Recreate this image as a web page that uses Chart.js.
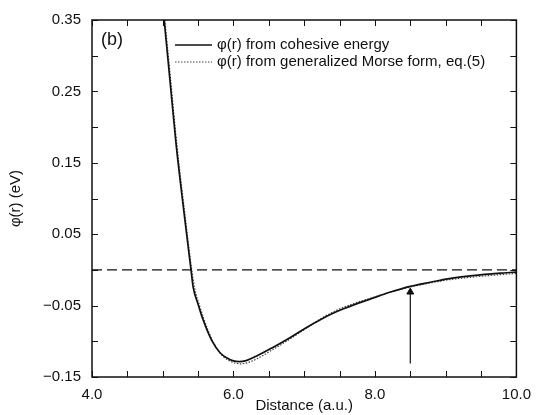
<!DOCTYPE html>
<html>
<head>
<meta charset="utf-8">
<script src="https://cdn.jsdelivr.net/npm/chart.js@4.4.1/dist/chart.umd.min.js"></script>
<style>
	body { margin: 0; background: #fff; }
	#wrap { width: 540px; height: 415px; }
</style>
</head>
<body>
<div id="wrap"><canvas id="phiChart" width="540" height="415"></canvas></div>
<script>
// phi(r) from cohesive energy (solid)
const cohR = [5.02, 5.10, 5.19, 5.30, 5.40, 5.43, 5.50, 5.56, 5.63, 5.70, 5.81, 5.91, 6.00, 6.08, 6.18, 6.32, 6.55, 6.78, 7.01, 7.24, 7.47, 7.70, 7.93, 8.22, 8.50, 8.80, 9.03, 9.49, 9.86, 10.0];
const cohPhi = [0.350, 0.268, 0.175, 0.081, 0.000, -0.024, -0.048, -0.067, -0.085, -0.100, -0.116, -0.1235, -0.1275, -0.1285, -0.127, -0.121, -0.109, -0.096, -0.082, -0.069, -0.058, -0.049, -0.041, -0.031, -0.023, -0.017, -0.0125, -0.007, -0.004, -0.003];

// phi(r) from generalized Morse form (dotted)
const morseR = [5.03, 5.11, 5.20, 5.31, 5.41, 5.45, 5.52, 5.58, 5.65, 5.72, 5.83, 5.93, 6.02, 6.10, 6.20, 6.32, 6.55, 6.78, 7.01, 7.24, 7.47, 7.70, 7.93, 8.22, 8.50, 8.80, 9.03, 9.49, 9.86, 10.0];
const morsePhi = [0.350, 0.268, 0.175, 0.081, 0.000, -0.025, -0.050, -0.068, -0.087, -0.102, -0.119, -0.1265, -0.1305, -0.1315, -0.130, -0.125, -0.112, -0.098, -0.083, -0.068, -0.056, -0.047, -0.040, -0.031, -0.024, -0.018, -0.014, -0.009, -0.006, -0.005];

// zero line and arrow
const zeroR = [4.0, 10.0];
const zeroPhi = [0, 0];
const arrowR = [8.5, 8.5];
const arrowPhi = [-0.131, -0.031];

const seriesLabels = ["\u03c6(r) from cohesive energy", "\u03c6(r) from generalized Morse form, eq.(5)"];
const panelLabel = "(b)";
const xTitle = "Distance (a.u.)";
const yTitle = "\u03c6(r) (eV)";

const FONT = "'Liberation Sans', Arial, Helvetica, sans-serif";
const INK = "#111";

function toPoints(xs, ys) {
	return xs.map((x, i) => ({ x: x, y: ys[i] }));
}

// frame, inward ticks, legend
const frameTicks = {
	id: "frameTicks",
	afterDatasetsDraw(chart) {
		const ctx = chart.ctx;
		const a = chart.chartArea;
		const sx = chart.scales.x;
		const sy = chart.scales.y;
		ctx.save();
		ctx.strokeStyle = INK;
		ctx.lineWidth = 1;
		ctx.beginPath();
		sx.ticks.forEach((t) => {
			let px = Math.round(sx.getPixelForValue(t.value)) + 0.5;
			ctx.moveTo(px, a.bottom);
			ctx.lineTo(px, a.bottom - 6);
			ctx.moveTo(px, a.top);
			ctx.lineTo(px, a.top + 6);
		});
		sy.ticks.forEach((t) => {
			let py = Math.round(sy.getPixelForValue(t.value)) + 0.5;
			ctx.moveTo(a.left, py);
			ctx.lineTo(a.left + 6, py);
			ctx.moveTo(a.right, py);
			ctx.lineTo(a.right - 6, py);
		});
		ctx.stroke();
		ctx.lineWidth = 1.5;
		ctx.strokeRect(a.left, a.top, a.right - a.left, a.bottom - a.top);

		// legend
		ctx.fillStyle = INK;
		ctx.font = "15px " + FONT;
		ctx.textBaseline = "middle";
		ctx.textAlign = "left";
		const ds = chart.data.datasets;
		[0, 1].forEach((i) => {
			let y = 45 + i * 17;
			ctx.beginPath();
			ctx.lineWidth = ds[i].borderWidth;
			ctx.strokeStyle = ds[i].borderColor;
			ctx.setLineDash(ds[i].borderDash || []);
			ctx.moveTo(175, y);
			ctx.lineTo(212, y);
			ctx.stroke();
			ctx.setLineDash([]);
			ctx.fillText(ds[i].label, 217, y);
		});

		ctx.font = "18px " + FONT;
		ctx.fillText(panelLabel, 101, 40);
		ctx.restore();
	},
};

function drawChart() {
	const ctx = document.getElementById("phiChart").getContext("2d");
	new Chart(ctx, {
		type: "line",
		data: {
			datasets: [
				{
					label: seriesLabels[0],
					data: toPoints(cohR, cohPhi),
					borderColor: INK,
					borderWidth: 1.7,
					pointRadius: 0,
					cubicInterpolationMode: "monotone",
				},
				{
					label: seriesLabels[1],
					data: toPoints(morseR, morsePhi),
					borderColor: "#444",
					borderWidth: 1.2,
					borderDash: [1.5, 1.5],
					pointRadius: 0,
					cubicInterpolationMode: "monotone",
				},
				{
					label: "zero",
					data: toPoints(zeroR, zeroPhi),
					borderColor: INK,
					borderWidth: 1.3,
					borderDash: [10, 5],
					pointRadius: 0,
				},
				{
					label: "arrow",
					data: toPoints(arrowR, arrowPhi),
					borderColor: INK,
					backgroundColor: INK,
					borderWidth: 1.2,
					pointStyle: "triangle",
					pointRadius: [0, 4],
					pointBorderWidth: 1,
				},
			],
		},
		options: {
			responsive: false,
			animation: false,
			layout: { padding: { left: 0, top: 17, right: 15, bottom: 0 } },
			plugins: {
				legend: { display: false },
				tooltip: { enabled: false },
			},
			scales: {
				x: {
					type: "linear",
					min: 4,
					max: 10,
					grid: { display: false, drawTicks: false },
					border: { display: false },
					ticks: {
						stepSize: 0.5,
						autoSkip: false,
						maxRotation: 0,
						padding: 9,
						color: INK,
						font: { family: FONT, size: 15 },
						callback: (v) => (Math.round(v * 10) % 20 === 0 ? v.toFixed(1) : ""),
					},
					title: {
						display: true,
						text: xTitle,
						color: INK,
						font: { family: FONT, size: 15 },
						padding: { top: 0, bottom: 0 },
					},
					afterFit: (s) => {
						s.height = 38;
					},
				},
				y: {
					type: "linear",
					min: -0.15,
					max: 0.35,
					grid: { display: false, drawTicks: false },
					border: { display: false },
					ticks: {
						stepSize: 0.05,
						autoSkip: false,
						padding: 11,
						color: INK,
						font: { family: FONT, size: 15 },
						callback: (v) => {
							let c = Math.round(v * 100);
							if (Math.abs(c) % 10 !== 5) return "";
							return (c < 0 ? "\u2212" : "") + Math.abs(v).toFixed(2);
						},
					},
					title: {
						display: true,
						text: yTitle,
						color: INK,
						font: { family: FONT, size: 15 },
						padding: { top: 7, bottom: 0 },
					},
					afterFit: (s) => {
						s.width = 92;
					},
				},
			},
		},
		plugins: [frameTicks],
	});
}

document.addEventListener("DOMContentLoaded", drawChart);
</script>
</body>
</html>
